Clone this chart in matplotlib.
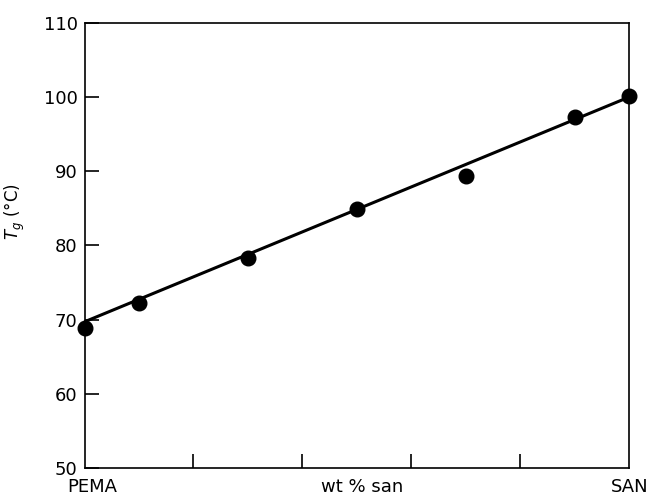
import numpy as np
import matplotlib
matplotlib.use("Agg")
import matplotlib.pyplot as plt

# measured glass transition temperatures, blends of PEMA and SAN
wt_san = [0, 10, 30, 50, 70, 90, 100]
tg = [68.9, 72.2, 78.3, 84.9, 89.3, 97.3, 100.1]

# straight line drawn through the points
fit_x = [0, 100]
fit_y = [69.7, 100.0]

yticks = [50, 60, 70, 80, 90, 100, 110]
xticks = [20, 40, 60, 80]

plt.rcParams['font.family'] = ['DejaVu Sans']

fig = plt.figure(figsize=(6.5, 4.96), dpi=100)
ax = fig.add_axes([0.130, 0.0565, 0.838, 0.8975])

ax.plot(fit_x, fit_y, color='black', lw=2.2, solid_capstyle='butt', clip_on=False, zorder=2)
ax.plot(wt_san, tg, 'o', color='black', ms=10.5, clip_on=False, zorder=3)

ax.set_xlim(0, 100)
ax.set_ylim(50, 110)
ax.set_yticks(yticks)
ax.set_xticks(xticks)
ax.set_xticklabels([])
ax.tick_params(axis='both', direction='in', length=10, width=1.2, labelsize=13, pad=5)
for s in ax.spines.values():
    s.set_linewidth(1.2)

ax.text(1.4, 46.7, 'PEMA', ha='center', va='baseline', fontsize=13)
ax.text(51, 46.7, 'wt % san', ha='center', va='baseline', fontsize=13)
ax.text(100, 46.7, 'SAN', ha='center', va='baseline', fontsize=13)

ax.set_ylabel(r'$T_g$ (°C)', fontsize=12)
ax.yaxis.set_label_coords(-0.106, 0.575)

fig.savefig('out.png', dpi=100)
